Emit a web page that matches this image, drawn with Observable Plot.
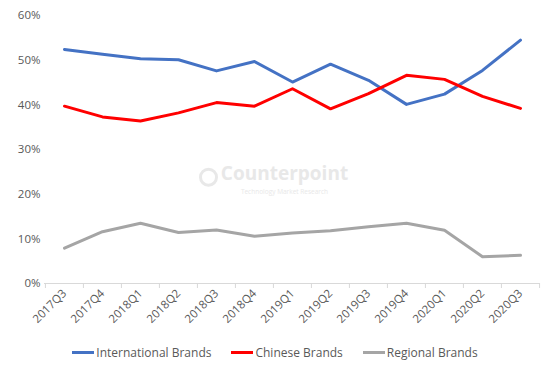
<!DOCTYPE html>
<html>
<head>
<meta charset="utf-8">
<script src="https://cdn.jsdelivr.net/npm/d3@7"></script>
<script src="https://cdn.jsdelivr.net/npm/@observablehq/plot@0.6"></script>
<style>
  html, body { margin: 0; padding: 0; background: #fff; }
  #wrap { width: 550px; height: 370px; position: relative; font-family: "Open Sans", "Noto Sans", sans-serif; }
  #legend { display: flex; justify-content: center; align-items: center; gap: 20px; height: 24px; font-size: 12px; color: #595959; margin-top: 0px; }
  .item { display: flex; align-items: center; }
  .sw { width: 22px; height: 3px; margin-right: 2px; }
</style>
</head>
<body>
<div id="wrap">
  <div id="chart"></div>
  <div id="legend"></div>
</div>
<script>
const quarters = ["2017Q3","2017Q4","2018Q1","2018Q2","2018Q3","2018Q4","2019Q1","2019Q2","2019Q3","2019Q4","2020Q1","2020Q2","2020Q3"];
const international = [52.4, 51.3, 50.3, 50.1, 47.6, 49.7, 45.1, 49.1, 45.5, 40.1, 42.4, 47.7, 54.5];
const chinese = [39.7, 37.3, 36.4, 38.2, 40.5, 39.7, 43.6, 39.1, 42.5, 46.6, 45.7, 41.9, 39.2];
const regional = [7.9, 11.6, 13.5, 11.4, 12.0, 10.6, 11.3, 11.8, 12.7, 13.5, 11.9, 6.0, 6.3];
const seriesNames = ["International Brands", "Chinese Brands", "Regional Brands"];
const seriesColors = ["#4472C4", "#FF0000", "#A5A5A5"];
const yTicks = [0, 10, 20, 30, 40, 50, 60];
const watermark = ["Counterpoint", "Technology Market Research"];

const rows = [];
[international, chinese, regional].forEach((vals, s) => {
  vals.forEach((v, i) => rows.push({quarter: quarters[i], value: v, series: seriesNames[s]}));
});

const W = 550, H = 340, mL = 44, mR = 10;
const step = (W - mL - mR) / quarters.length;

const chart = Plot.plot({
  width: W,
  height: H,
  marginTop: 15,
  marginLeft: mL,
  marginRight: mR,
  marginBottom: 57,
  style: {fontFamily: "'Open Sans', 'Noto Sans', sans-serif", fontSize: "11.5px", color: "#595959", background: "#fff"},
  x: {type: "point", domain: quarters, padding: 0.5, label: null},
  y: {domain: [0, 60], label: null},
  color: {domain: seriesNames, range: seriesColors},
  marks: [
    Plot.text([watermark[0]], {x: () => "2019Q1", dx: -8, y: () => 24.6, text: d => d, fontSize: 19, fontWeight: "bold", fill: "#e8e8e8", textAnchor: "middle"}),
    Plot.text([watermark[1]], {x: () => "2019Q1", dx: -8, y: () => 20.5, text: d => d, fontSize: 6.5, fill: "#e8e8e8", textAnchor: "middle"}),
    Plot.dot([0], {x: () => "2018Q3", dx: -8, y: () => 23.8, r: 8, stroke: "#e8e8e8", strokeWidth: 3, fill: "none"}),
    Plot.ruleY([0], {stroke: "#d9d9d9", strokeWidth: 1}),
    Plot.ruleX(quarters, {x: d => d, y1: 0, y2: 0, dx: -step / 2, stroke: "#d9d9d9", insetBottom: -5}),
    Plot.ruleX([quarters[quarters.length - 1]], {x: d => d, y1: 0, y2: 0, dx: step / 2, stroke: "#d9d9d9", insetBottom: -5}),
    Plot.axisY({ticks: yTicks, tickFormat: d => d + "%", tickSize: 0, tickPadding: 4, fill: "#595959", fontSize: 11.5}),
    Plot.axisX({tickSize: 0, tickRotate: -45, tickPadding: 8, fill: "#595959", fontSize: 11.5}),
    Plot.line(rows, {x: "quarter", y: "value", z: "series", stroke: "series", strokeWidth: 3})
  ]
});
document.getElementById("chart").appendChild(chart);

const legend = document.getElementById("legend");
seriesNames.forEach((name, i) => {
  const item = document.createElement("div");
  item.className = "item";
  const sw = document.createElement("span");
  sw.className = "sw";
  sw.style.background = seriesColors[i];
  const t = document.createElement("span");
  t.textContent = name;
  item.appendChild(sw);
  item.appendChild(t);
  legend.appendChild(item);
});
</script>
</body>
</html>
